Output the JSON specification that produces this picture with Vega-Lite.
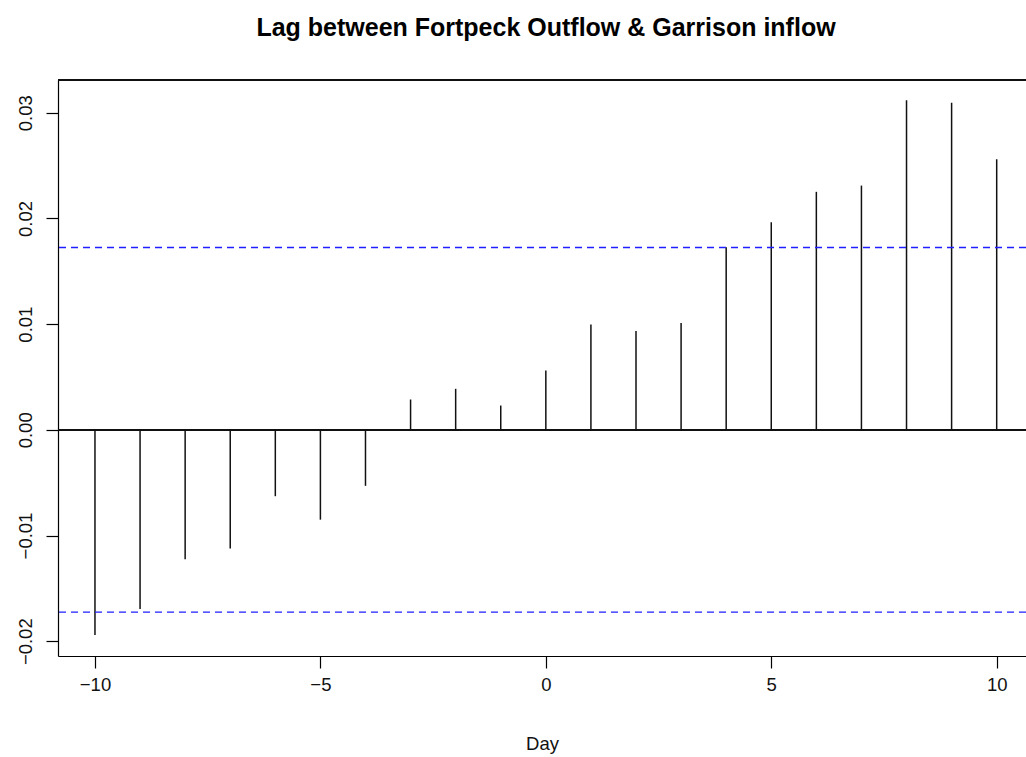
{
  "$schema": "https://vega.github.io/schema/vega-lite/v6.json",
  "width": 968,
  "height": 576,
  "autosize": {"type": "none"},
  "padding": {"left": 58, "top": 80, "right": 0, "bottom": 101},
  "background": "white",
  "title": {
    "text": "Lag between Fortpeck Outflow & Garrison inflow",
    "font": "Liberation Sans",
    "fontSize": 25,
    "fontWeight": "bold",
    "color": "#000000",
    "anchor": "middle",
    "offset": 38,
    "dx": 4
  },
  "config": {
    "view": {"stroke": null},
    "font": "Liberation Sans",
    "axis": {
      "grid": false,
      "domainColor": "#000000",
      "domainWidth": 1.2,
      "tickColor": "#000000",
      "tickWidth": 1.2,
      "tickSize": 12,
      "labelFont": "Liberation Sans",
      "labelFontSize": 18.5,
      "labelColor": "#111111",
      "titleFont": "Liberation Sans",
      "titleFontSize": 18.5,
      "titleFontWeight": "normal",
      "titleColor": "#111111"
    }
  },
  "datasets": {
    "ccf": [
      {"lag": -10, "ccf": -0.01942},
      {"lag": -9, "ccf": -0.01696},
      {"lag": -8, "ccf": -0.01225},
      {"lag": -7, "ccf": -0.01124},
      {"lag": -6, "ccf": -0.00628},
      {"lag": -5, "ccf": -0.0085},
      {"lag": -4, "ccf": -0.0053},
      {"lag": -3, "ccf": 0.00287},
      {"lag": -2, "ccf": 0.00388},
      {"lag": -1, "ccf": 0.0023},
      {"lag": 0, "ccf": 0.00562},
      {"lag": 1, "ccf": 0.00997},
      {"lag": 2, "ccf": 0.00935},
      {"lag": 3, "ccf": 0.01011},
      {"lag": 4, "ccf": 0.01727},
      {"lag": 5, "ccf": 0.01964},
      {"lag": 6, "ccf": 0.02252},
      {"lag": 7, "ccf": 0.02311},
      {"lag": 8, "ccf": 0.03119},
      {"lag": 9, "ccf": 0.03095},
      {"lag": 10, "ccf": 0.0256}
    ],
    "bounds": [
      {"limit": 0.01725},
      {"limit": -0.01725}
    ]
  },
  "layer": [
    {
      "data": {"name": "ccf"},
      "mark": {"type": "rule", "color": "#111111", "strokeWidth": 1.5},
      "encoding": {
        "x": {
          "field": "lag",
          "type": "quantitative",
          "scale": {"domain": [-10.82, 10.65], "nice": false, "zero": false},
          "axis": {
            "values": [-10, -5, 0, 5, 10],
            "format": "d",
            "labelPadding": 7,
            "labelBaseline": "top",
            "title": "Day",
            "titleBaseline": "alphabetic",
            "titleY": 93
          }
        },
        "y": {
          "field": "ccf",
          "type": "quantitative",
          "scale": {"domain": [-0.0214, 0.0331], "nice": false, "zero": false},
          "axis": {
            "values": [-0.02, -0.01, 0, 0.01, 0.02, 0.03],
            "format": ".2f",
            "labelAngle": -90,
            "labelAlign": "center",
            "labelBaseline": "alphabetic",
            "labelPadding": 15,
            "title": null
          }
        },
        "y2": {"datum": 0}
      }
    },
    {
      "data": {"name": "ccf"},
      "mark": {"type": "rule", "color": "#111111", "strokeWidth": 1.2},
      "encoding": {"y": {"datum": 0}}
    },
    {
      "data": {"name": "ccf"},
      "mark": {"type": "rule", "color": "#111111", "strokeWidth": 1.2},
      "encoding": {"y": {"datum": 0.0331}}
    },
    {
      "data": {"name": "bounds"},
      "mark": {"type": "rule", "color": "#1f1fff", "strokeWidth": 1.4, "strokeDash": [7, 5]},
      "encoding": {"y": {"field": "limit", "type": "quantitative"}}
    }
  ]
}
